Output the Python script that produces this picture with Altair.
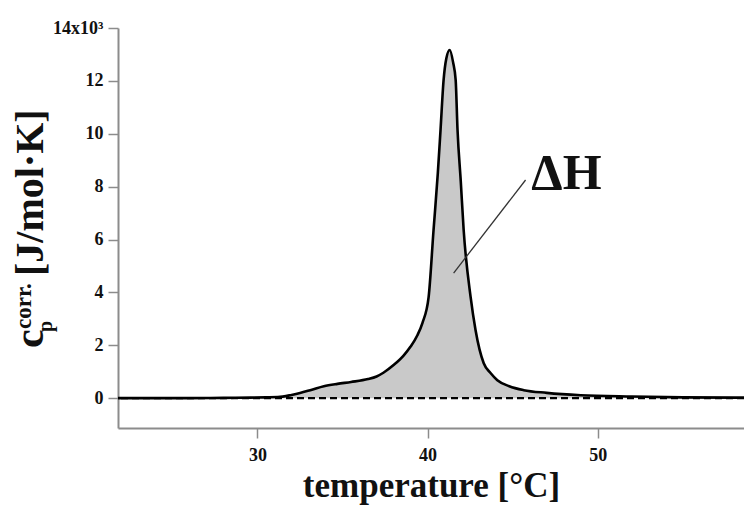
import altair as alt
import pandas as pd

# temperature [°C]
temp = [21.8, 24.0, 26.0, 28.0, 29.6, 30.5, 31.2, 32.0, 32.5, 33.2, 33.9, 34.7,
        35.5, 36.5, 37.0, 37.4, 38.0, 38.6, 39.0, 39.4, 39.7, 40.06, 40.35, 40.6,
        40.76, 40.94, 41.1, 41.3, 41.5, 41.65, 41.76, 41.95, 42.12, 42.53, 42.82,
        43.3, 43.7, 44.1, 44.8, 45.65, 47.0, 49.0, 52.0, 55.0, 58.6]
# corrected heat capacity [J/mol·K]
cp = [0, 0, 0, 10, 20, 30, 40, 120, 190, 320, 450, 540,
      610, 720, 820, 960, 1250, 1620, 1950, 2380, 2850, 3820, 6360, 8500,
      10140, 12030, 12850, 13170, 12700, 12030, 10140, 8200, 6360, 3820, 2570,
      1320, 950, 680, 450, 300, 200, 110, 60, 30, 20]

x_ticks = [30, 40, 50]
y_ticks = [0, 2000, 4000, 6000, 8000, 10000, 12000, 14000]

# annotation pointer (data coords)
ann_x = [41.53, 45.76]
ann_y = [4730, 8250]
label_x = [46.1]
label_y = [7900]

SERIF = "Liberation Serif"
X_DOM = [21.8, 58.6]
Y_DOM = [-1130, 14000]

df = pd.DataFrame({"t": temp, "cp": cp})

xs = alt.Scale(domain=X_DOM, nice=False, zero=False)
ys = alt.Scale(domain=Y_DOM, nice=False, zero=False)

xax = alt.Axis(values=x_ticks, title="temperature [°C]", grid=False,
               domainColor="#8c8c8c", domainWidth=2, tickColor="#8c8c8c",
               tickWidth=1.5, tickSize=10, labelFont=SERIF, labelFontWeight="bold",
               labelFontSize=18, labelColor="#111", labelPadding=8,
               titleFont=SERIF, titleFontWeight="bold", titleFontSize=35,
               titleColor="#111", titlePadding=4)
yax = alt.Axis(values=y_ticks, title=None, grid=False,
               domainColor="#8c8c8c", domainWidth=2, tickColor="#8c8c8c",
               tickWidth=1.5, tickSize=10, labelFont=SERIF, labelFontWeight="bold",
               labelFontSize=18, labelColor="#111", labelPadding=5,
               labelExpr="datum.value == 14000 ? '14x10³' : format(datum.value/1000, 'd')")

area = alt.Chart(df).mark_area(color="#c9c9c9", interpolate="monotone", clip=True).encode(
    x=alt.X("t:Q", scale=xs, axis=xax),
    y=alt.Y("cp:Q", scale=ys, axis=yax),
    y2=alt.datum(0),
)

line = alt.Chart(df).mark_line(color="black", strokeWidth=2.6, interpolate="monotone",
                               clip=True).encode(
    x=alt.X("t:Q", scale=xs),
    y=alt.Y("cp:Q", scale=ys),
)

zero = alt.Chart(pd.DataFrame({"z": [0]})).mark_rule(
    color="black", strokeDash=[7, 4], strokeWidth=2.4).encode(
    y=alt.Y("z:Q", scale=ys),
)

ann = alt.Chart(pd.DataFrame({"x": ann_x, "y": ann_y})).mark_line(
    color="#333", strokeWidth=1.3).encode(
    x=alt.X("x:Q", scale=xs), y=alt.Y("y:Q", scale=ys))

dh = alt.Chart(pd.DataFrame({"x": label_x, "y": label_y, "s": ["ΔH"]})).mark_text(
    font=SERIF, fontWeight="bold", fontSize=50, align="left", baseline="alphabetic",
    color="#111").encode(
    x=alt.X("x:Q", scale=xs), y=alt.Y("y:Q", scale=ys), text="s:N")

def ytitle(txt, x, y, size):
    return alt.Chart(pd.DataFrame({"s": [txt]})).mark_text(
        font=SERIF, fontWeight="bold", fontSize=size, angle=270, align="left",
        baseline="alphabetic", color="#111").encode(
        x=alt.value(x), y=alt.value(y), text="s:N")

t_c = ytitle("c", -75, 320, 42)
t_p = ytitle("p", -66, 304, 20)
t_corr = ytitle("corr.", -87, 301, 23)
t_unit = ytitle("[J/mol·K]", -75, 248, 40)

chart = alt.layer(area, zero, line, ann, dh, t_c, t_p, t_corr, t_unit).properties(
    width=626, height=400,
    autosize=alt.AutoSizeParams(type="none"),
    padding={"left": 118, "top": 28, "right": 0, "bottom": 78},
    background="white",
).configure_view(stroke=None)

chart.save("out.html", embed_options={"renderer": "svg", "actions": False})
